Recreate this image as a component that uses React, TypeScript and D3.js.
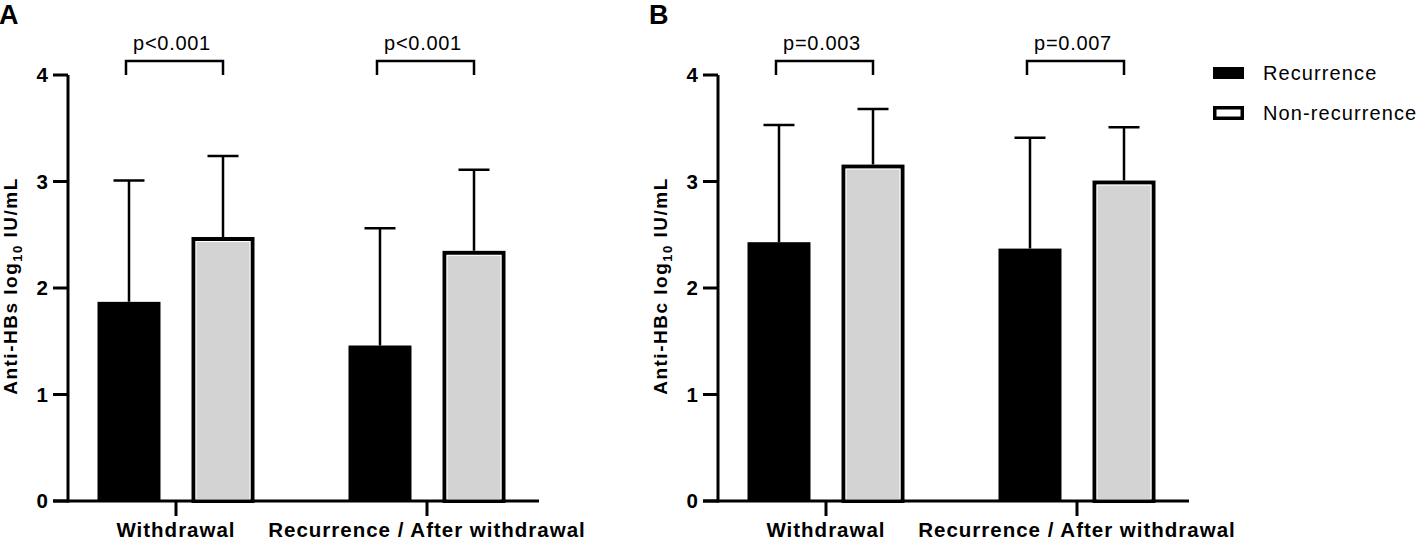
import * as d3 from 'd3';

const categories = ['Withdrawal', 'Recurrence / After withdrawal'];
const seriesNames = ['Recurrence', 'Non-recurrence'];

// panel A: anti-HBs (log10 IU/mL), mean and upper end of error bar
const hbsRecurrence = [1.87, 1.46];
const hbsRecurrenceUpper = [3.01, 2.56];
const hbsNonRecurrence = [2.46, 2.33];
const hbsNonRecurrenceUpper = [3.24, 3.11];
const hbsPValues = ['p<0.001', 'p<0.001'];

// panel B: anti-HBc (log10 IU/mL)
const hbcRecurrence = [2.43, 2.37];
const hbcRecurrenceUpper = [3.53, 3.41];
const hbcNonRecurrence = [3.14, 2.99];
const hbcNonRecurrenceUpper = [3.68, 3.51];
const hbcPValues = ['p=0.003', 'p=0.007'];

const yTicks = [0, 1, 2, 3, 4];

const FONT = '"Liberation Sans", Arial, Helvetica, sans-serif';
const GREY = '#d3d3d3';

const y = d3.scaleLinear().domain([0, 4]).range([501, 75]);

interface PanelProps {
  ox: number;
  letter: string;
  yName: string;
  rec: number[];
  recUp: number[];
  non: number[];
  nonUp: number[];
  pValues: string[];
}

const Panel = ({ ox, letter, yName, rec, recUp, non, nonUp, pValues }: PanelProps) => {
  const axisX = 68;
  const x0 = d3.scaleBand<string>().domain(categories).range([50.5, 552.5]).padding(0);
  const x1 = d3.scaleBand<string>().domain(seriesNames).range([-78.5, 78.5]).paddingInner(0.33).paddingOuter(0);
  const bw = x1.bandwidth();
  const center = (c: string) => (x0(c) ?? 0) + x0.bandwidth() / 2;
  const barX = (c: string, s: string) => center(c) + (x1(s) ?? 0);

  return (
    <g transform={`translate(${ox},0)`} fontFamily={FONT}>
      <text x={-1} y={24} fontSize={27} fontWeight="bold">{letter}</text>

      {/* y label */}
      <text
        transform={`translate(17,${y(2) - 2}) rotate(-90)`}
        textAnchor="middle"
        fontSize={19}
        fontWeight="bold"
        letterSpacing={1.5}
      >
        {yName} log<tspan fontSize={13} dy={5}>10</tspan>
        <tspan dy={-5}> IU/mL</tspan>
      </text>

      {/* bars */}
      {categories.map((c, i) => {
        const bx = barX(c, seriesNames[0]);
        const gx = barX(c, seriesNames[1]);
        const bc = bx + bw / 2;
        const gc = gx + bw / 2;
        return (
          <g key={c}>
            <rect x={bx} y={y(rec[i])} width={bw} height={y(0) - y(rec[i])} fill="#000" />
            <path d={`M${bc},${y(rec[i])}V${y(recUp[i])}M${bc - 15.5},${y(recUp[i])}H${bc + 15.5}`}
              stroke="#000" strokeWidth={2.5} fill="none" />

            <path d={`M${gc},${y(non[i]) - 2}V${y(nonUp[i])}M${gc - 15.5},${y(nonUp[i])}H${gc + 15.5}`}
              stroke="#000" strokeWidth={2.5} fill="none" />
            <rect x={gx + 2} y={y(non[i])} width={bw - 4} height={y(0) - y(non[i])}
              fill={GREY} stroke="#000" strokeWidth={4} />
            <rect x={gx + 4.5} y={y(non[i]) + 2.5} width={bw - 9} height={y(0) - y(non[i]) - 4}
              fill="none" stroke="#fff" strokeWidth={1} />

            {/* significance bracket */}
            <path d={`M${bc - 3},${y(4)}V61H${gc}V${y(4)}`} stroke="#000" strokeWidth={2.5} fill="none" />
            <text x={(bc + gc) / 2 - 4} y={50} textAnchor="middle" fontSize={20} letterSpacing={0.7}>{pValues[i]}</text>
          </g>
        );
      })}

      {/* axes */}
      <path d={`M${axisX},${y(4)}V${y(0) + 1.5}`} stroke="#000" strokeWidth={3} fill="none" />
      <path d={`M53,${y(0)}H539`} stroke="#000" strokeWidth={3} fill="none" />
      {yTicks.map(t => (
        <g key={t}>
          <path d={`M53,${y(t)}H${axisX}`} stroke="#000" strokeWidth={3} />
          <text x={48} y={y(t)} dy="0.36em" textAnchor="end" fontSize={20.5} fontWeight="bold">{t}</text>
        </g>
      ))}
      {categories.map(c => (
        <g key={c}>
          <path d={`M${center(c)},${y(0)}V516`} stroke="#000" strokeWidth={3} />
          <text x={center(c)} y={537} textAnchor="middle" fontSize={20.5} fontWeight="bold" letterSpacing={1}>{c}</text>
        </g>
      ))}
    </g>
  );
};

const Legend = () => (
  <g fontFamily={FONT} transform="translate(1213,0)">
    {seriesNames.map((s, i) => {
      const yy = 73 + i * 40;
      return (
        <g key={s}>
          {i === 0
            ? <rect x={0} y={yy - 6} width={31} height={12} fill="#000" />
            : <rect x={1.75} y={yy - 5.25} width={27.5} height={10.5} fill="#fff" stroke="#000" strokeWidth={3.5} />}
          <text x={50} y={yy} dy="0.35em" fontSize={20} letterSpacing={1.1}>{s}</text>
        </g>
      );
    })}
  </g>
);

export default function App() {
  return (
    <svg width={1418} height={541} style={{ position: 'absolute', left: 0, top: 0, background: '#fff' }}>
      <Panel ox={0} letter="A" yName="Anti-HBs" rec={hbsRecurrence} recUp={hbsRecurrenceUpper}
        non={hbsNonRecurrence} nonUp={hbsNonRecurrenceUpper} pValues={hbsPValues} />
      <Panel ox={650} letter="B" yName="Anti-HBc" rec={hbcRecurrence} recUp={hbcRecurrenceUpper}
        non={hbcNonRecurrence} nonUp={hbcNonRecurrenceUpper} pValues={hbcPValues} />
      <Legend />
    </svg>
  );
}
